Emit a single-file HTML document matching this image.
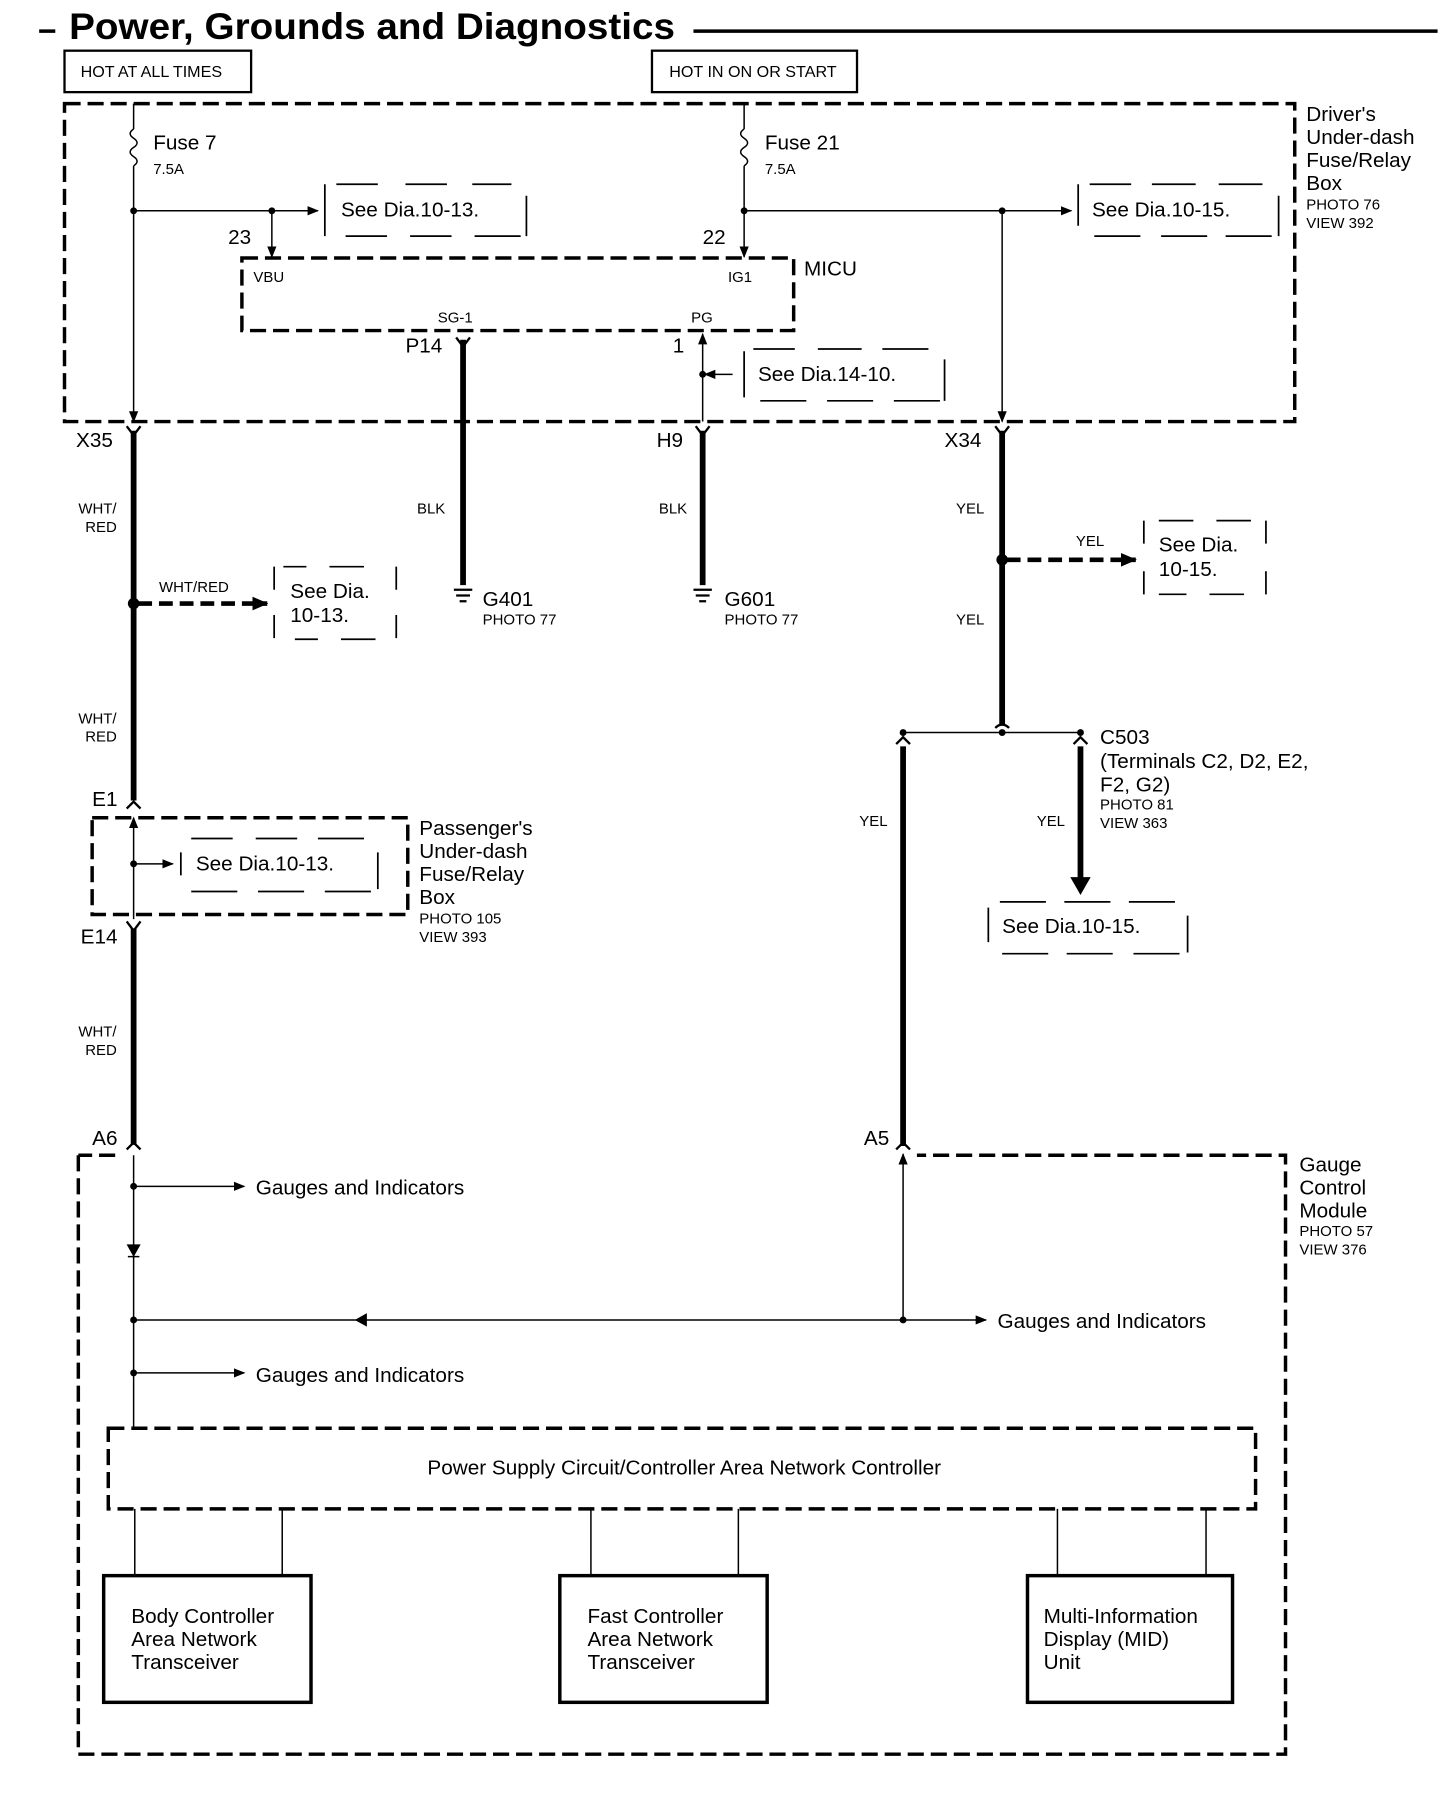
<!DOCTYPE html>
<html><head><meta charset="utf-8"><style>
html,body{margin:0;padding:0;background:#fff;}
svg{display:block;}
text{font-family:"Liberation Sans",sans-serif;fill:#000;}
</style></head><body>
<svg width="1456" height="1806" viewBox="0 0 1264 1568" preserveAspectRatio="none" xmlns="http://www.w3.org/2000/svg">
<defs>
<marker id="ar" markerWidth="10" markerHeight="10" refX="9" refY="5" orient="auto" markerUnits="userSpaceOnUse"><path d="M0,1 L10,5 L0,9 z" fill="#000"/></marker>
<marker id="arb" markerWidth="14" markerHeight="14" refX="13" refY="7" orient="auto" markerUnits="userSpaceOnUse"><path d="M0,1 L14,7 L0,13 z" fill="#000"/></marker>
</defs>
<g stroke="#000" fill="none">
<line x1="34" y1="27" x2="48" y2="27" stroke-width="3"/>
<line x1="602" y1="27" x2="1248" y2="27" stroke-width="3"/>
<rect x="56" y="44" width="162" height="36" stroke-width="2"/>
<rect x="566" y="44" width="178" height="36" stroke-width="2"/>
<rect x="56" y="90" width="1068" height="276" stroke-width="3" stroke-dasharray="14,6"/>
<line x1="116" y1="90" x2="116" y2="112" stroke-width="1.3"/>
<path d="M116,112 q-6,4 0,8 q6,4 0,8 q-6,4 0,8 q6,4 0,8" stroke-width="1.3"/>
<line x1="116" y1="144" x2="116" y2="366" stroke-width="1.3" marker-end="url(#ar)"/>
<line x1="116" y1="183" x2="276" y2="183" stroke-width="1.3" marker-end="url(#ar)"/>
<line x1="236" y1="183" x2="236" y2="223" stroke-width="1.3" marker-end="url(#ar)"/>
<line x1="646" y1="90" x2="646" y2="112" stroke-width="1.3"/>
<path d="M646,112 q-6,4 0,8 q6,4 0,8 q-6,4 0,8 q6,4 0,8" stroke-width="1.3"/>
<line x1="646" y1="144" x2="646" y2="223" stroke-width="1.3" marker-end="url(#ar)"/>
<line x1="646" y1="183" x2="930" y2="183" stroke-width="1.3" marker-end="url(#ar)"/>
<line x1="870" y1="183" x2="870" y2="366" stroke-width="1.3" marker-end="url(#ar)"/>
<rect x="210" y="224" width="479" height="63" stroke-width="3" stroke-dasharray="14,6"/>
<line x1="402" y1="295" x2="402" y2="508" stroke-width="5"/>
<line x1="610" y1="366" x2="610" y2="290" stroke-width="1.3" marker-end="url(#ar)"/>
<line x1="636" y1="325" x2="612" y2="325" stroke-width="1.3" marker-end="url(#ar)"/>
<g stroke-width="1.5">
<path d="M282,160 v45 M457,170 v35 M292,160 h36 M352,160 h36 M410,160 h34 M300,205 h36 M356,205 h36 M412,205 h40"/>
<path d="M936,160 v36 M1110,170 v35 M946,160 h36 M1000,160 h38 M1058,160 h38 M950,205 h40 M1008,205 h40 M1064,205 h40"/>
<path d="M646,305 v40 M820,312 v36 M654,303 h36 M710,303 h38 M766,303 h40 M660,348 h40 M718,348 h40 M776,348 h40"/>
<path d="M238,492 v20 M238,534 v20 M344,492 v20 M344,534 v20 M246,492 h20 M286,492 h30 M256,555 h20 M296,555 h30"/>
<path d="M993,452 v20 M993,496 v20 M1099,452 v20 M1099,496 v20 M1006,452 h30 M1056,452 h30 M1006,516 h24 M1050,516 h30"/>
<path d="M157,740 v20 M328,740 v32 M166,728 h36 M222,728 h36 M276,728 h40 M166,774 h40 M224,774 h40 M282,774 h40"/>
<path d="M858,788 v30 M1031,795 v32 M868,783 h40 M924,783 h40 M980,783 h40 M870,828 h40 M926,828 h40 M984,828 h40"/>
</g>
<path d="M110,370 l6,8 l6,-8 M604,370 l6,8 l6,-8 M864,370 l6,8 l6,-8 M396,293 l6,8 l6,-8" stroke-width="2"/>
<line x1="116" y1="374" x2="116" y2="695" stroke-width="5"/>
<line x1="610" y1="374" x2="610" y2="508" stroke-width="5"/>
<line x1="870" y1="374" x2="870" y2="630" stroke-width="5"/>
<line x1="120" y1="524" x2="232" y2="524" stroke-width="4" stroke-dasharray="12,6" marker-end="url(#arb)"/>
<line x1="874" y1="486" x2="986" y2="486" stroke-width="4" stroke-dasharray="12,6" marker-end="url(#arb)"/>
<path d="M394,512 h16 M396,517 h12 M399,522 h6 M602,512 h16 M604,517 h12 M607,522 h6" stroke-width="2"/>
<line x1="784" y1="636" x2="938" y2="636" stroke-width="1.3"/>
<path d="M864,632 q6,-6 12,0" stroke-width="2"/>
<path d="M778,646 l6,-6 l6,6 M932,646 l6,-6 l6,6" stroke-width="2"/>
<line x1="784" y1="648" x2="784" y2="995" stroke-width="5"/>
<line x1="938" y1="648" x2="938" y2="762" stroke-width="5"/>
<path d="M930,762 h16 l-8,14 z" fill="#000"/>
<rect x="80" y="710" width="274" height="84" stroke-width="3" stroke-dasharray="14,6"/>
<path d="M110,702 l6,-6 l6,6 M110,800 l6,8 l6,-8" stroke-width="2"/>
<line x1="116" y1="798" x2="116" y2="710" stroke-width="1.3" marker-end="url(#ar)"/>
<line x1="116" y1="750" x2="150" y2="750" stroke-width="1.3" marker-end="url(#ar)"/>
<line x1="116" y1="806" x2="116" y2="994" stroke-width="5"/>
<path d="M110,998 l6,-6 l6,6 M778,998 l6,-6 l6,6" stroke-width="2"/>
<path d="M68,1003 v520 h1048 v-520 h-320 M100,1003 h-32" stroke-width="3" stroke-dasharray="14,6"/>
<line x1="116" y1="1003" x2="116" y2="1240" stroke-width="1.3"/>
<line x1="784" y1="1146" x2="784" y2="1002" stroke-width="1.3" marker-end="url(#ar)"/>
<line x1="116" y1="1030" x2="212" y2="1030" stroke-width="1.3" marker-end="url(#ar)"/>
<line x1="116" y1="1146" x2="856" y2="1146" stroke-width="1.3" marker-end="url(#ar)"/>
<path d="M318,1141 l-9,5 l9,5 z" fill="#000"/>
<line x1="116" y1="1192" x2="212" y2="1192" stroke-width="1.3" marker-end="url(#ar)"/>
<path d="M111,1081 h10 l-5,9 z M111,1091 h10" fill="#000" stroke-width="1.3"/>
<rect x="94" y="1240" width="996" height="70" stroke-width="3" stroke-dasharray="14,6"/>
<path d="M117,1310 v58 M245,1310 v58 M513,1310 v58 M641,1310 v58 M918,1310 v58 M1047,1310 v58" stroke-width="1.3"/>
<rect x="90" y="1368" width="180" height="110" stroke-width="3"/>
<rect x="486" y="1368" width="180" height="110" stroke-width="3"/>
<rect x="892" y="1368" width="178" height="110" stroke-width="3"/>
</g>
<g fill="#000">
<circle cx="116" cy="183" r="3"/><circle cx="236" cy="183" r="3"/><circle cx="646" cy="183" r="3"/><circle cx="870" cy="183" r="3"/>
<circle cx="610" cy="325" r="3"/><circle cx="116" cy="524" r="5"/><circle cx="870" cy="486" r="5"/>
<circle cx="784" cy="636" r="3"/><circle cx="870" cy="636" r="3"/><circle cx="938" cy="636" r="3"/>
<circle cx="116" cy="750" r="3"/><circle cx="116" cy="1030" r="3"/><circle cx="116" cy="1146" r="3"/><circle cx="116" cy="1192" r="3"/><circle cx="784" cy="1146" r="3"/>
</g>
<text x="60" y="34" font-size="32" font-weight="bold" textLength="526" lengthAdjust="spacingAndGlyphs">Power, Grounds and Diagnostics</text>
<g font-size="14"><text x="70" y="67">HOT AT ALL TIMES</text><text x="581" y="67">HOT IN ON OR START</text></g>
<g font-size="18">
<text x="133" y="130">Fuse 7</text><text x="664" y="130">Fuse 21</text>
<text x="296" y="188">See Dia.10-13.</text><text x="948" y="188">See Dia.10-15.</text>
<text x="198" y="212">23</text><text x="610" y="212">22</text><text x="698" y="239">MICU</text>
<text x="352" y="306">P14</text><text x="584" y="306">1</text>
<text x="658" y="331">See Dia.14-10.</text>
<text x="66" y="388">X35</text><text x="570" y="388">H9</text><text x="820" y="388">X34</text>
<text x="252" y="519">See Dia.</text><text x="252" y="540">10-13.</text>
<text x="1006" y="479">See Dia.</text><text x="1006" y="500">10-15.</text>
<text x="419" y="526">G401</text><text x="629" y="526">G601</text>
<text x="955" y="646">C503</text><text x="955" y="667">(Terminals C2, D2, E2,</text><text x="955" y="687">F2, G2)</text>
<text x="80" y="700">E1</text><text x="70" y="819">E14</text>
<text x="170" y="756">See Dia.10-13.</text>
<text x="364" y="725">Passenger's</text><text x="364" y="745">Under-dash</text><text x="364" y="765">Fuse/Relay</text><text x="364" y="785">Box</text>
<text x="870" y="810">See Dia.10-15.</text>
<text x="1134" y="105">Driver's</text><text x="1134" y="125">Under-dash</text><text x="1134" y="145">Fuse/Relay</text><text x="1134" y="165">Box</text>
<text x="80" y="994">A6</text><text x="750" y="994">A5</text>
<text x="1128" y="1017">Gauge</text><text x="1128" y="1037">Control</text><text x="1128" y="1057">Module</text>
<text x="222" y="1037">Gauges and Indicators</text><text x="866" y="1153">Gauges and Indicators</text><text x="222" y="1200">Gauges and Indicators</text>
<text x="594" y="1280" text-anchor="middle">Power Supply Circuit/Controller Area Network Controller</text>
<text x="114" y="1409">Body Controller</text><text x="114" y="1429">Area Network</text><text x="114" y="1449">Transceiver</text>
<text x="510" y="1409">Fast Controller</text><text x="510" y="1429">Area Network</text><text x="510" y="1449">Transceiver</text>
<text x="906" y="1409">Multi-Information</text><text x="906" y="1429">Display (MID)</text><text x="906" y="1449">Unit</text>
</g>
<g font-size="13">
<text x="133" y="151">7.5A</text><text x="664" y="151">7.5A</text>
<text x="220" y="245">VBU</text><text x="632" y="245">IG1</text><text x="380" y="280">SG-1</text><text x="600" y="280">PG</text>
<text x="1134" y="182">PHOTO 76</text><text x="1134" y="198">VIEW 392</text>
<text x="68" y="446">WHT/</text><text x="74" y="462">RED</text><text x="362" y="446">BLK</text><text x="572" y="446">BLK</text>
<text x="830" y="446">YEL</text><text x="934" y="474">YEL</text><text x="830" y="542">YEL</text>
<text x="138" y="514">WHT/RED</text>
<text x="419" y="542">PHOTO 77</text><text x="629" y="542">PHOTO 77</text>
<text x="68" y="628">WHT/</text><text x="74" y="644">RED</text>
<text x="955" y="703">PHOTO 81</text><text x="955" y="719">VIEW 363</text>
<text x="746" y="717">YEL</text><text x="900" y="717">YEL</text>
<text x="364" y="802">PHOTO 105</text><text x="364" y="818">VIEW 393</text>
<text x="68" y="900">WHT/</text><text x="74" y="916">RED</text>
<text x="1128" y="1073">PHOTO 57</text><text x="1128" y="1089">VIEW 376</text>
</g>
</svg>
</body></html>
